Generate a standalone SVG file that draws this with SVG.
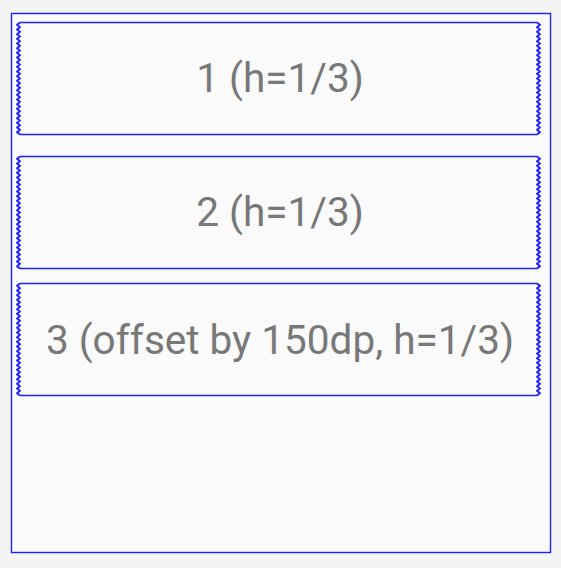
<svg xmlns="http://www.w3.org/2000/svg" xmlns:xlink="http://www.w3.org/1999/xlink" width="561" height="568" viewBox="0 0 561 568">
<style>
.ln{fill:none;stroke:#1f1fff;stroke-width:1.4}
.zz{fill:none;stroke:#1f1fff;stroke-width:1.9;stroke-linejoin:round}
.lbl{font-family:Roboto,"Liberation Sans",sans-serif;font-size:40.5px;fill:#787878;text-anchor:middle}
</style>
<defs>
<path id="zig" class="zz" d="M0,0l-3,2.333l3,2.333l-3,2.333l3,2.333l-3,2.333l3,2.333l-3,2.333l3,2.333l-3,2.333l3,2.333l-3,2.333l3,2.333l-3,2.333l3,2.333l-3,2.333l3,2.333l-3,2.333l3,2.333l-3,2.333l3,2.333l-3,2.333l3,2.333l-3,2.333l3,2.333l-3,2.333l3,2.333l-3,2.333l3,2.333l-3,2.333l3,2.333l-3,2.333l3,2.333l-3,2.333l3,2.333l-3,2.333l3,2.333l-3,2.333l3,2.333l-3,2.333l3,2.333l-3,2.333l3,2.333l-3,2.333l3,2.333l-3,2.333l3,2.333l-3,2.333l3,2.333"/>
</defs>
<rect x="0" y="0" width="561" height="568" fill="#f4f4f4"/>
<g id="container">
<rect x="11.5" y="13.5" width="539" height="539" class="ln" style="fill:#fafafa"/>
</g>
<g id="box1">
<path class="ln" d="M20,22.5H537M20,134.5H537"/>
<use xlink:href="#zig" transform="translate(20,22.5)"/>
<use xlink:href="#zig" transform="translate(537,22.5) scale(-1,1)"/>
<text class="lbl" x="280" y="92">1 (h=1/3)</text>
</g>
<g id="box2">
<path class="ln" d="M20,156.5H537M20,268.5H537"/>
<use xlink:href="#zig" transform="translate(20,156.5)"/>
<use xlink:href="#zig" transform="translate(537,156.5) scale(-1,1)"/>
<text class="lbl" x="280" y="226">2 (h=1/3)</text>
</g>
<g id="box3">
<path class="ln" d="M20,283.5H537M20,395.5H537"/>
<use xlink:href="#zig" transform="translate(20,283.5)"/>
<use xlink:href="#zig" transform="translate(537,283.5) scale(-1,1)"/>
<text class="lbl" x="280" y="354">3 (offset by 150dp, h=1/3)</text>
</g>
<g id="connectors"></g>
</svg>
